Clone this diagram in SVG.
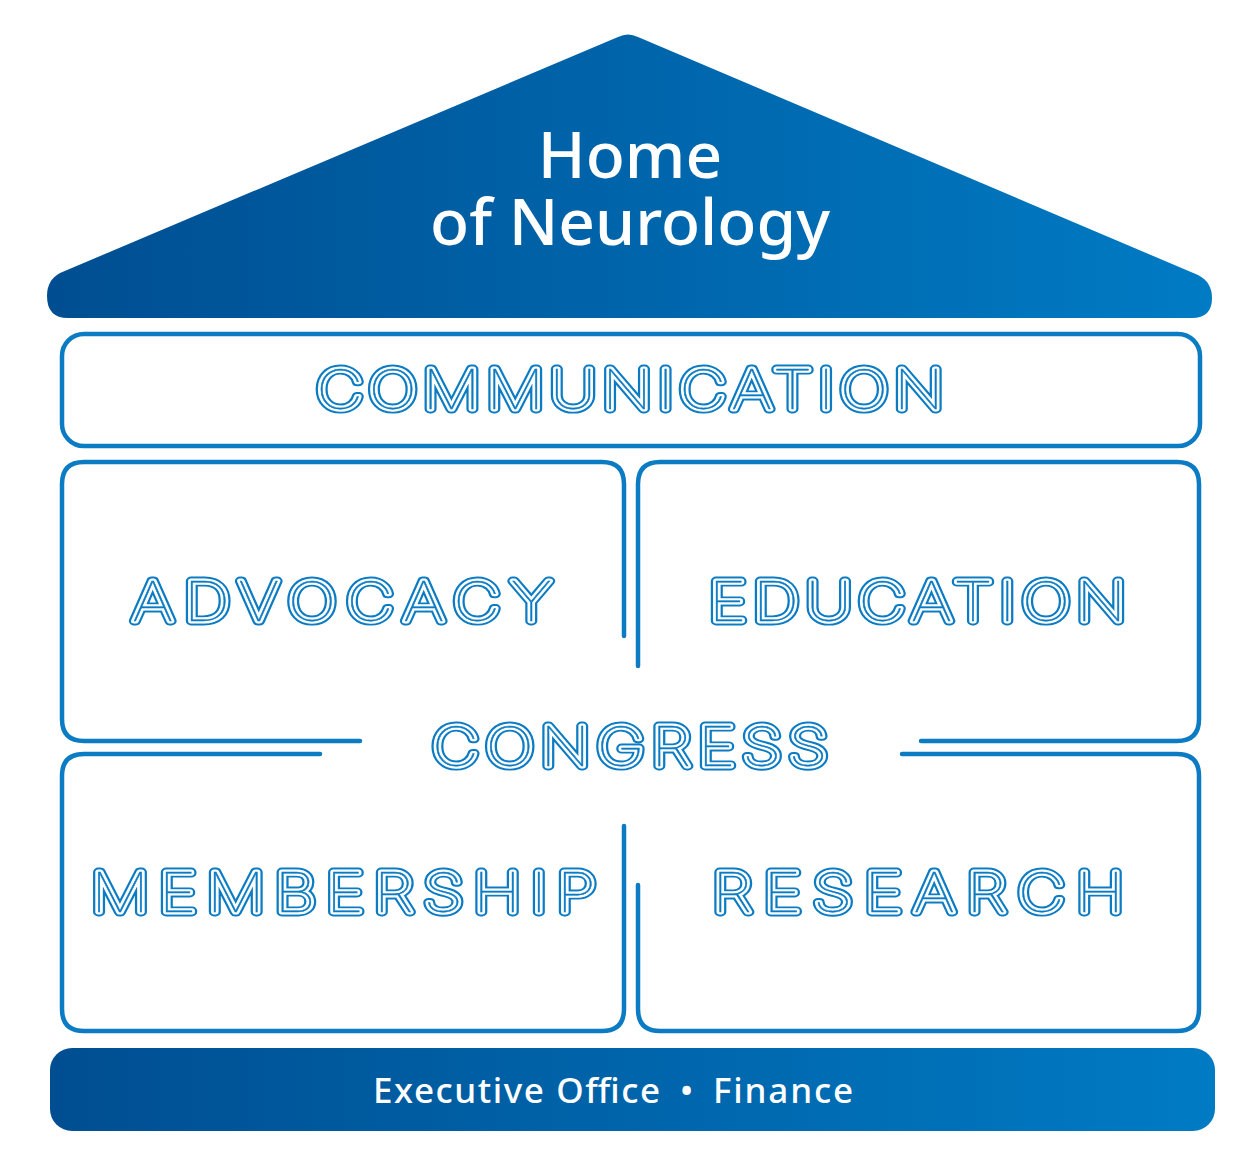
<svg xmlns="http://www.w3.org/2000/svg" xmlns:xlink="http://www.w3.org/1999/xlink" width="1250" height="1163" viewBox="0 0 1250 1163">
<style>
.frame{fill:none;stroke:#0b7bc3;stroke-width:4.5;stroke-linecap:round;stroke-linejoin:round}
.lbl{font-family:Inter,"Noto Sans",sans-serif;font-weight:100;font-size:54px;text-anchor:middle}
.o1{fill:#0b7bc3;stroke:#0b7bc3;stroke-width:8.8;stroke-linejoin:round;stroke-linecap:round}
.o2{fill:#fff;stroke:#fff;stroke-width:5;stroke-linejoin:round;stroke-linecap:round}
.o3{fill:#0b7bc3;stroke:#0b7bc3;stroke-width:0.4}
.wt{fill:#fff;font-family:"Noto Sans","Open Sans",sans-serif}
</style>
<defs>
<linearGradient id="g" x1="0" y1="0" x2="1" y2="0">
<stop offset="0" stop-color="#004e91"/>
<stop offset="1" stop-color="#007bc4"/>
</linearGradient>
<text id="t-comm" class="lbl" transform="scale(1.2,1)" x="525" y="409.5" textLength="523" lengthAdjust="spacing">COMMUNICATION</text>
<text id="t-adv" class="lbl" transform="scale(1.2,1)" x="285" y="621.5" textLength="350" lengthAdjust="spacing">ADVOCACY</text>
<text id="t-edu" class="lbl" transform="scale(1.2,1)" x="764.6" y="621.5" textLength="348" lengthAdjust="spacing">EDUCATION</text>
<text id="t-con" class="lbl" transform="scale(1.2,1)" x="525" y="766.5" textLength="330" lengthAdjust="spacing">CONGRESS</text>
<text id="t-mem" class="lbl" transform="scale(1.2,1)" x="286.3" y="912.5" textLength="421" lengthAdjust="spacing">MEMBERSHIP</text>
<text id="t-res" class="lbl" transform="scale(1.2,1)" x="765" y="912.5" textLength="343" lengthAdjust="spacing">RESEARCH</text>
</defs>

<g id="roof">
<path d="M60,273 L618,37 Q628,32 638,37 L1198,275 Q1212,282 1212,298 Q1212,318 1192,318 L68,318 Q47,318 47,296 Q47,280 60,273 Z" fill="url(#g)"/>
<text class="wt" font-size="64" font-weight="500" text-anchor="middle"><tspan x="630" y="178">Home</tspan><tspan x="630" y="245">of Neurology</tspan></text>
</g>

<g id="communication">
<rect class="frame" x="62" y="334" width="1138" height="112" rx="22"/>
<use xlink:href="#t-comm" class="o1"/><use xlink:href="#t-comm" class="o2"/><use xlink:href="#t-comm" class="o3"/>
</g>

<g id="advocacy">
<path class="frame" d="M360,741 L84,741 Q62,741 62,719 L62,484 Q62,462 84,462 L602,462 Q624,462 624,484 L624,636"/>
<use xlink:href="#t-adv" class="o1"/><use xlink:href="#t-adv" class="o2"/><use xlink:href="#t-adv" class="o3"/>
</g>

<g id="education">
<path class="frame" d="M638,666 L638,484 Q638,462 660,462 L1177,462 Q1199,462 1199,484 L1199,719 Q1199,741 1177,741 L921,741"/>
<use xlink:href="#t-edu" class="o1"/><use xlink:href="#t-edu" class="o2"/><use xlink:href="#t-edu" class="o3"/>
</g>

<g id="congress">
<use xlink:href="#t-con" class="o1"/><use xlink:href="#t-con" class="o2"/><use xlink:href="#t-con" class="o3"/>
</g>

<g id="membership">
<path class="frame" d="M320,754 L84,754 Q62,754 62,776 L62,1009 Q62,1031 84,1031 L602,1031 Q624,1031 624,1009 L624,826"/>
<use xlink:href="#t-mem" class="o1"/><use xlink:href="#t-mem" class="o2"/><use xlink:href="#t-mem" class="o3"/>
</g>

<g id="research">
<path class="frame" d="M638,885 L638,1009 Q638,1031 660,1031 L1177,1031 Q1199,1031 1199,1009 L1199,776 Q1199,754 1177,754 L902,754"/>
<use xlink:href="#t-res" class="o1"/><use xlink:href="#t-res" class="o2"/><use xlink:href="#t-res" class="o3"/>
</g>

<g id="foundation">
<rect x="50" y="1048" width="1165" height="83" rx="22" fill="url(#g)"/>
<text class="wt" y="1103" font-size="35" font-weight="500"><tspan x="373" textLength="287" lengthAdjust="spacing">Executive Office</tspan><tspan x="680">•</tspan><tspan x="713" textLength="140" lengthAdjust="spacing">Finance</tspan></text>
</g>

<g id="connectors"/>
</svg>
